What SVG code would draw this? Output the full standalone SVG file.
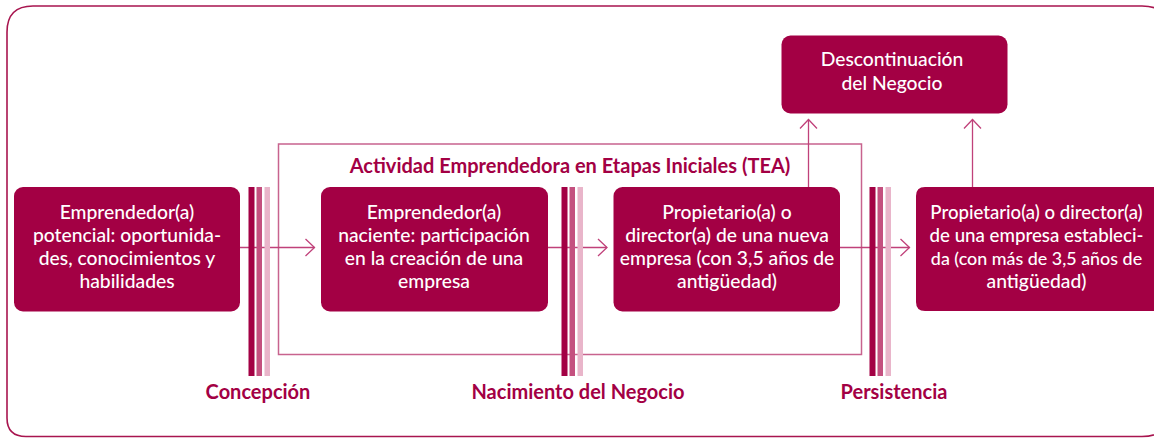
<svg xmlns="http://www.w3.org/2000/svg" width="1154" height="438" viewBox="0 0 1154 438">
  <style>
    .node { fill: #a30044; }
    .ntxt { font-family: Lato, "Open Sans", sans-serif; font-size: 19.3px; font-weight: 500; fill: #ffffff; text-anchor: middle; }
    .lbl { font-family: Lato, "Open Sans", sans-serif; font-size: 20px; font-weight: 700; fill: #a30044; text-anchor: middle; }
    .conn { stroke: #c0417a; stroke-width: 1.3; fill: none; }
    .b1 { fill: #a30044; }
    .b2 { fill: #c4507f; }
    .b3 { fill: #e9b5ca; }
  </style>
  <defs>
    <marker id="arr" markerWidth="12" markerHeight="20" refX="10" refY="10" orient="auto" markerUnits="userSpaceOnUse">
      <path d="M1,1.5 L10,10 L1,18.5" fill="none" stroke="#c0417a" stroke-width="1.3"/>
    </marker>
    <g id="bars">
      <rect class="b1" x="0" y="0" width="6" height="189"/>
      <rect class="b2" x="8" y="0" width="5.5" height="189"/>
      <rect class="b3" x="16" y="0" width="5.5" height="189"/>
    </g>
  </defs>

  <!-- outer frame -->
  <path d="M1168,30 Q1168,6 1142,6 L33,6 Q7,6 7,32 L7,418 Q7,436.5 26,436.5 L1142,436.5 Q1168,436.5 1168,412" fill="none" stroke="#a8154f" stroke-width="1.6"/>

  <!-- TEA box -->
  <g id="tea">
    <rect x="278.5" y="144" width="583" height="210.5" fill="none" stroke="#c8638e" stroke-width="1.5"/>
    <text class="lbl" x="570" y="172.5">Actividad Emprendedora en Etapas Iniciales (TEA)</text>
  </g>

  <!-- connectors -->
  <g id="connectors">
    <line class="conn" x1="240" y1="247.5" x2="314.5" y2="247.5" marker-end="url(#arr)"/>
    <line class="conn" x1="548" y1="247.5" x2="607" y2="247.5" marker-end="url(#arr)"/>
    <line class="conn" x1="840" y1="247.5" x2="909.5" y2="247.5" marker-end="url(#arr)"/>
    <line class="conn" x1="808.5" y1="187" x2="808.5" y2="119.5" marker-end="url(#arr)"/>
    <line class="conn" x1="972.5" y1="187" x2="972.5" y2="119.5" marker-end="url(#arr)"/>
  </g>

  <!-- stage separators -->
  <g id="sep-concepcion">
    <use href="#bars" x="248.5" y="187"/>
    <text class="lbl" x="258" y="398.5">Concepción</text>
  </g>
  <g id="sep-nacimiento">
    <use href="#bars" x="561.5" y="187"/>
    <text class="lbl" x="578" y="398.5">Nacimiento del Negocio</text>
  </g>
  <g id="sep-persistencia">
    <use href="#bars" x="869.5" y="187"/>
    <text class="lbl" x="894" y="398.5">Persistencia</text>
  </g>

  <!-- nodes -->
  <g id="n-potencial">
    <rect class="node" x="14" y="187" width="226" height="124.5" rx="9"/>
    <text class="ntxt" x="127" y="218.5">Emprendedor(a)</text>
    <text class="ntxt" x="127" y="241.8">potencial: oportunida-</text>
    <text class="ntxt" x="127" y="265.1">des, conocimientos y</text>
    <text class="ntxt" x="127" y="288.4">habilidades</text>
  </g>
  <g id="n-naciente">
    <rect class="node" x="321" y="187" width="227" height="124.5" rx="9"/>
    <text class="ntxt" x="434" y="218.5">Emprendedor(a)</text>
    <text class="ntxt" x="434" y="241.8">naciente: participación</text>
    <text class="ntxt" x="434" y="265.1">en la creación de una</text>
    <text class="ntxt" x="434" y="288.4">empresa</text>
  </g>
  <g id="n-nueva">
    <rect class="node" x="613.5" y="187" width="226.5" height="124.5" rx="9"/>
    <text class="ntxt" x="727" y="218.5">Propietario(a) o</text>
    <text class="ntxt" x="727" y="241.8">director(a) de una nueva</text>
    <text class="ntxt" x="727" y="265.1">empresa (con 3,5 años de</text>
    <text class="ntxt" x="727" y="288.4">antigüedad)</text>
  </g>
  <g id="n-establecida">
    <path class="node" d="M1154,187 L925,187 Q916,187 916,196 L916,302 Q916,311 925,311 L1154,311 Z"/>
    <text class="ntxt" x="1036.5" y="218.5" style="font-size:18.6px">Propietario(a) o director(a)</text>
    <text class="ntxt" x="1036.5" y="241.8" style="font-size:18.7px">de una empresa estableci-</text>
    <text class="ntxt" x="1036.5" y="265.1" style="font-size:17.9px">da (con más de 3,5 años de</text>
    <text class="ntxt" x="1036.5" y="288.4">antigüedad)</text>
  </g>
  <g id="n-descontinuacion">
    <rect class="node" x="781.5" y="35.5" width="226" height="78" rx="9"/>
    <text class="ntxt" x="892" y="66">Descontinuación</text>
    <text class="ntxt" x="892" y="89.5">del Negocio</text>
  </g>
</svg>
